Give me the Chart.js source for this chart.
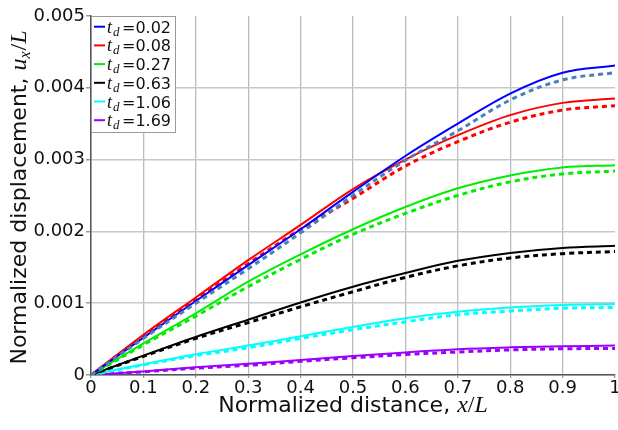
<!DOCTYPE html>
<html>
<head>
<meta charset="utf-8">
<script src="https://cdn.jsdelivr.net/npm/chart.js@4"></script>
<style>
  html, body { margin: 0; padding: 0; background: #fff; }
</style>
</head>
<body>
<canvas id="myChart" width="618" height="430"></canvas>
<script>
// x/L positions where the curves were read
const xPos = [0, 0.1, 0.2, 0.3, 0.4, 0.5, 0.6, 0.7, 0.8, 0.9, 1];

// legend labels (t_d values)
const tdValues = ['0.02', '0.08', '0.27', '0.63', '1.06', '1.69'];

// u_x/L, solid = full model, dashed = approximation
const solid002 = [0, 0.00052, 0.00103, 0.00153, 0.00203, 0.00255, 0.00305, 0.00350, 0.00392, 0.00421, 0.00431];
const dashed002 = [0, 0.00051, 0.00100, 0.00148, 0.00198, 0.00250, 0.00299, 0.00340, 0.00383, 0.00411, 0.00421];
const solid008 = [0, 0.00056, 0.00108, 0.00160, 0.00209, 0.00259, 0.00300, 0.00334, 0.00362, 0.00379, 0.00385];
const dashed008 = [0, 0.00054, 0.00105, 0.00155, 0.00203, 0.00246, 0.00291, 0.00325, 0.00352, 0.00369, 0.00375];
const solid027 = [0, 0.00044, 0.00086, 0.00130, 0.00168, 0.00203, 0.00234, 0.00260, 0.00278, 0.00289, 0.00292];
const dashed027 = [0, 0.00042, 0.00082, 0.00123, 0.00161, 0.00196, 0.00225, 0.00250, 0.00269, 0.00280, 0.00284];
const solid063 = [0, 0.00027, 0.00053, 0.00077, 0.00101, 0.00123, 0.00142, 0.00159, 0.00170, 0.00177, 0.00180];
const dashed063 = [0, 0.00026, 0.00051, 0.00073, 0.00095, 0.00116, 0.00136, 0.00152, 0.00163, 0.00169, 0.00172];
const solid106 = [0, 0.00015, 0.00029, 0.00041, 0.00054, 0.00067, 0.00079, 0.00088, 0.00094, 0.000975, 0.00099];
const dashed106 = [0, 0.00014, 0.00027, 0.00038, 0.00051, 0.00063, 0.00074, 0.00084, 0.00089, 0.00093, 0.00094];
const solid169 = [0, 0.00005, 0.000107, 0.000155, 0.00021, 0.000265, 0.000315, 0.00036, 0.000385, 0.0004, 0.00041];
const dashed169 = [0, 0.000045, 0.000095, 0.000135, 0.00019, 0.00024, 0.000285, 0.00032, 0.00035, 0.000365, 0.00037];

const solidSeries = [solid002, solid008, solid027, solid063, solid106, solid169];
const dashedSeries = [dashed002, dashed008, dashed027, dashed063, dashed106, dashed169];

const solidColors = ['#0000ff', '#ff0000', '#00ee00', '#000000', '#00ffff', '#9b00ff'];
const dashedColors = ['#4a7fbd', '#ff0000', '#00ee00', '#000000', '#00ffff', '#9b00ff'];

const SANS = '"DejaVu Sans", sans-serif';
const SERIF = '"Liberation Serif", serif';

function toPoints(arr) {
  return arr.map((v, i) => ({ x: xPos[i], y: v }));
}

const datasets = [];
solidSeries.forEach((s, i) => {
  datasets.push({
    label: 'td=' + tdValues[i] + ' dashed',
    data: toPoints(dashedSeries[i]),
    borderColor: dashedColors[i],
    borderWidth: 3,
    borderDash: [5, 4],
    pointRadius: 0,
    tension: 0.35,
    fill: false
  });
  datasets.push({
    label: 'td=' + tdValues[i],
    data: toPoints(s),
    borderColor: solidColors[i],
    borderWidth: 2,
    pointRadius: 0,
    tension: 0.35,
    fill: false
  });
});

// draws a row of text pieces with different fonts, centered at cx
function drawRuns(ctx, runs, cx, baseY) {
  let total = 0;
  runs.forEach(r => {
    ctx.font = r.font;
    r.w = ctx.measureText(r.text).width + (r.gap || 0);
    total += r.w;
  });
  let x = cx - total / 2;
  ctx.textAlign = 'left';
  ctx.textBaseline = 'alphabetic';
  runs.forEach(r => {
    ctx.font = r.font;
    ctx.fillText(r.text, x, baseY + (r.dy || 0));
    x += r.w;
  });
}

const decorPlugin = {
  id: 'decor',
  afterDraw(chart) {
    const ctx = chart.ctx;
    const area = chart.chartArea;
    ctx.save();
    ctx.fillStyle = '#111';

    // x axis title
    const cx = (area.left + area.right) / 2;
    drawRuns(ctx, [
      { text: 'Normalized distance, ', font: '22px ' + SANS },
      { text: 'x', font: 'italic 24px ' + SERIF },
      { text: '/', font: '24px ' + SERIF },
      { text: 'L', font: 'italic 24px ' + SERIF }
    ], cx, 412);

    // y axis title
    ctx.save();
    ctx.translate(26, (area.top + area.bottom) / 2 + 2);
    ctx.rotate(-Math.PI / 2);
    drawRuns(ctx, [
      { text: 'Normalized displacement, ', font: '22px ' + SANS },
      { text: 'u', font: 'italic 24px ' + SERIF },
      { text: 'x', font: 'italic 16px ' + SERIF, dy: 4, gap: 1 },
      { text: '/', font: '24px ' + SERIF },
      { text: 'L', font: 'italic 24px ' + SERIF }
    ], 0, 0);
    ctx.restore();

    // legend box
    const lx = area.left + 0.5, ly = area.top + 0.5;
    ctx.fillStyle = '#fff';
    ctx.fillRect(lx, ly, 84, 116);
    ctx.strokeStyle = '#9a9a9a';
    ctx.lineWidth = 1;
    ctx.strokeRect(lx, ly, 84, 116);
    tdValues.forEach((td, i) => {
      const y = area.top + 10.7 + i * 18.7;
      ctx.strokeStyle = solidColors[i];
      ctx.lineWidth = 2;
      ctx.beginPath();
      ctx.moveTo(area.left + 3, y);
      ctx.lineTo(area.left + 14, y);
      ctx.stroke();
      ctx.fillStyle = '#111';
      ctx.textAlign = 'left';
      ctx.textBaseline = 'alphabetic';
      ctx.font = 'italic 18px ' + SERIF;
      ctx.fillText('t', area.left + 16, y + 6);
      ctx.font = 'italic 13px ' + SERIF;
      ctx.fillText('d', area.left + 22, y + 9);
      ctx.font = '16px ' + SANS;
      ctx.fillText('=' + td, area.left + 31, y + 6);
    });
    ctx.restore();
  }
};

const ctx = document.getElementById('myChart').getContext('2d');
const chartInstance = new Chart(ctx, {
  type: 'line',
  data: { datasets: datasets },
  options: {
    responsive: false,
    animation: false,
    layout: { padding: { top: 16, right: 3, left: 0, bottom: 0 } },
    plugins: {
      legend: { display: false },
      tooltip: { enabled: false }
    },
    scales: {
      x: {
        type: 'linear',
        min: 0,
        max: 1,
        ticks: {
          stepSize: 0.1,
          color: '#111',
          font: { family: SANS, size: 18 },
          padding: 0,
          maxRotation: 0,
          callback: v => (v === 0 || v === 1) ? String(v) : v.toFixed(1)
        },
        grid: {
          color: c => (c.tick && c.tick.value > 0.999) ? 'rgba(0,0,0,0)' : '#bcbcbc',
          lineWidth: 1.3,
          tickLength: 3,
          tickColor: '#9a9a9a'
        },
        border: { color: '#555', width: 1.5 },
        afterFit(scale) {
          scale.height = 55;
          scale.paddingRight = 3;
        }
      },
      y: {
        min: 0,
        max: 0.005,
        ticks: {
          stepSize: 0.001,
          color: '#111',
          font: { family: SANS, size: 18 },
          padding: 1,
          callback: v => v === 0 ? '0' : v.toFixed(3)
        },
        grid: {
          color: c => (c.tick && c.tick.value > 0.00499) ? 'rgba(0,0,0,0)' : '#c8c8c8',
          lineWidth: 1.5,
          tickLength: 5,
          tickColor: '#9a9a9a'
        },
        border: { color: '#555', width: 1.5 },
        afterFit(scale) {
          scale.width = 91;
        }
      }
    }
  },
  plugins: [decorPlugin]
});
</script>
</body>
</html>
